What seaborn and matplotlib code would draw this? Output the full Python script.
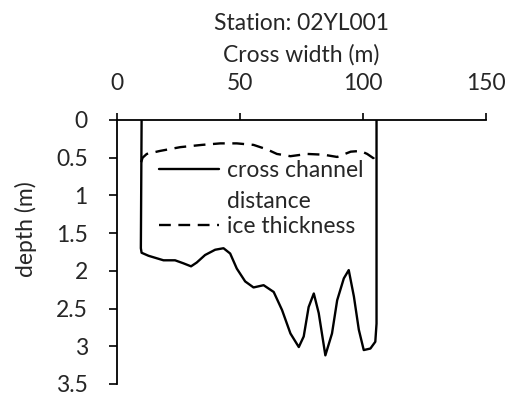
import matplotlib
matplotlib.use("Agg")
import matplotlib.pyplot as plt
import seaborn as sns
import pandas as pd

# Channel bed profile: distance across the section (m) and depth below surface (m)
bed_x = [10.0, 9.7, 10.0, 12.8, 18.9, 23.6, 27.0, 30.1, 32.4, 35.8, 39.9, 43.3, 46.0,
         48.7, 52.1, 55.5, 59.6, 63.7, 67.1, 70.5, 73.9, 75.9, 77.9, 80.0, 82.0,
         84.7, 87.4, 89.5, 92.2, 94.2, 96.3, 98.3, 100.3, 103.0, 105.0, 105.5, 105.5]
bed_depth = [0.0, 1.70, 1.76, 1.80, 1.86, 1.86, 1.90, 1.94, 1.89, 1.79, 1.72, 1.70, 1.77,
             1.97, 2.14, 2.22, 2.19, 2.28, 2.52, 2.83, 3.01, 2.87, 2.48, 2.30, 2.56,
             3.12, 2.83, 2.39, 2.10, 1.99, 2.34, 2.78, 3.05, 3.03, 2.94, 2.70, 0.0]

# Underside of the ice cover
ice_x = [9.8, 10.4, 12.1, 17.5, 25.7, 34.5, 42.0, 48.7, 55.5, 61.0, 65.0, 70.5,
         77.3, 84.0, 89.5, 95.0, 99.0, 101.7, 104.4, 105.3]
ice_depth = [0.56, 0.50, 0.45, 0.41, 0.36, 0.33, 0.31, 0.31, 0.33, 0.39, 0.45, 0.48,
             0.45, 0.46, 0.49, 0.42, 0.41, 0.45, 0.51, 0.56]

x_ticks = [0, 50, 100, 150]
y_ticks = [0, 0.5, 1, 1.5, 2, 2.5, 3, 3.5]
y_tick_labels = ["0", "0.5", "1", "1.5", "2", "2.5", "3", "3.5"]

sns.set_theme(style="white")
plt.rcParams["font.family"] = ["Lato", "DejaVu Sans"]
FS = 16.5

bed = pd.DataFrame({"x": bed_x, "depth": bed_depth})
ice = pd.DataFrame({"x": ice_x, "depth": ice_depth})

fig = plt.figure(figsize=(5.08, 3.98), dpi=100)
ax = fig.add_axes([117 / 508, 1 - 384 / 398, (486 - 117) / 508, (384 - 120) / 398])

sns.lineplot(data=bed, x="x", y="depth", sort=False, estimator=None, color="black",
             linewidth=1.7, ax=ax, label="cross channel\ndistance")
sns.lineplot(data=ice, x="x", y="depth", sort=False, estimator=None, color="black",
             linewidth=1.7, ax=ax, label="ice thickness")
for ln in ax.lines:
    ln.set_solid_joinstyle("round")
ax.lines[1].set_linestyle((0, (5, 3.2)))

ax.set_xlim(0, 150)
ax.set_ylim(3.5, 0)
ax.set_xticks(x_ticks)
ax.set_xticklabels([str(v) for v in x_ticks])
ax.set_yticks(y_ticks)
ax.set_yticklabels(y_tick_labels)
ax.xaxis.tick_top()
ax.xaxis.set_label_position("top")
ax.set_xlabel("Cross width (m)", fontsize=FS, labelpad=8)
ax.set_ylabel("depth (m)", fontsize=FS)
ax.yaxis.set_label_coords(-0.216, 0.585)
ax.set_title("Station: 02YL001", fontsize=FS, pad=10)

for side in ("right", "bottom"):
    ax.spines[side].set_visible(False)
for side in ("left", "top"):
    ax.spines[side].set_color("black")
    ax.spines[side].set_linewidth(1.3)
ax.tick_params(axis="x", which="major", top=True, bottom=False, direction="out",
               length=5, width=1.2, color="black", labelsize=FS, pad=14)
ax.tick_params(axis="y", which="major", left=True, direction="out",
               length=6, width=1.2, color="black", labelsize=FS, pad=15)
ax.grid(False)

leg = ax.legend(loc="upper left", bbox_to_anchor=(0.115, 0.85), frameon=False,
                fontsize=FS, handlelength=2.6, handletextpad=0.35,
                labelspacing=0.2, borderaxespad=0, borderpad=0)
for t in leg.get_texts():
    t.set_linespacing(1.6)
# keep the solid handle level with the first line of its two-line label
solid = leg.get_lines()[0]
solid.set_ydata([y + FS * 0.75 for y in solid.get_ydata()])

fig.savefig("out.png", dpi=100, facecolor="white")
